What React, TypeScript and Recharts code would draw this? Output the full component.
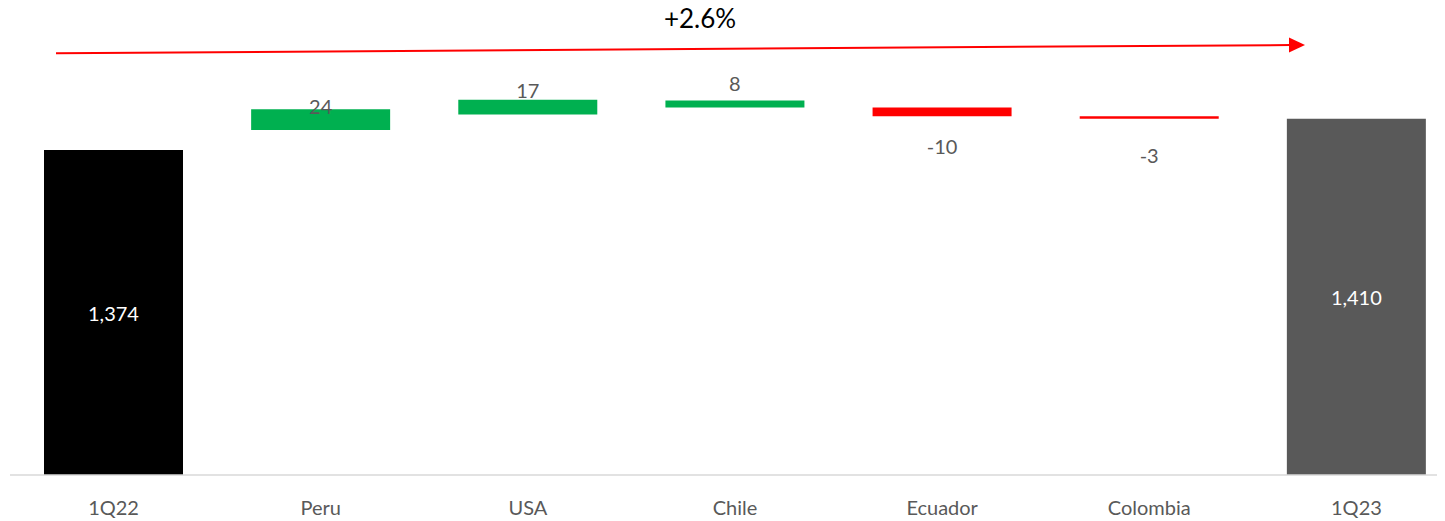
import React from "react";
import { Bar, BarChart, Cell, LabelList, XAxis, YAxis } from "recharts";

// bridge: 1Q22 -> country deltas -> 1Q23
const categories = ["1Q22", "Peru", "USA", "Chile", "Ecuador", "Colombia", "1Q23"];
const values = [1374, 24, 17, 8, -10, -3, 1410];
// level each floating bar starts from (totals start at the axis floor)
const starts = [null, 1397, 1415, 1423, 1423, 1413, null];
const kinds = ["start", "delta", "delta", "delta", "delta", "delta", "end"];
const growthLabel = "+2.6%";

const Y_MIN = 1000;
const Y_MAX = 1450;

const colorFor = (kind: string, v: number) => {
  if (kind === "start") return "#000000";
  if (kind === "end") return "#595959";
  return v >= 0 ? "#00b050" : "#ff0000";
};

const data = categories.map((name, i) => {
  const s = starts[i];
  const range = s === null ? [Y_MIN, values[i]] : [Math.min(s, s + values[i]), Math.max(s, s + values[i])];
  return { name, value: values[i], range, kind: kinds[i] };
});

const fmt = (v: number) => v.toLocaleString("en-US");

function BarLabel(props: any) {
  const { x, y, width, height, index } = props;
  const d = data[index];
  const cx = x + width / 2;
  if (d.kind !== "delta") {
    return (
      <text x={cx} y={y + height / 2} fill="#ffffff" fontSize={20} textAnchor="middle" dominantBaseline="central">
        {fmt(d.value)}
      </text>
    );
  }
  // excel puts the delta labels relative to where the bar starts
  const cy = d.value >= 0 ? y + height - 24 : y + 39;
  return (
    <text x={cx} y={cy} fill="#595959" fontSize={20} textAnchor="middle" dominantBaseline="central">
      {fmt(d.value)}
    </text>
  );
}

export default function App() {
  // wrapper pulled up over the body margin so the title isn't clipped
  return (
    <div
      style={{
        position: "relative",
        marginTop: -8,
        width: 1437,
        height: 521,
        overflow: "hidden",
        fontFamily: "Lato, sans-serif",
      }}
    >
      <BarChart width={1452} height={521} data={data} margin={{ top: 84, right: 0, left: 2, bottom: 0 }}>
        <XAxis
          dataKey="name"
          axisLine={{ stroke: "#d9d9d9", strokeWidth: 1.5 }}
          tickLine={false}
          tickSize={0}
          tickMargin={26}
          height={46}
          tick={{ fontSize: 20, fill: "#595959" }}
          interval={0}
        />
        <YAxis hide domain={[Y_MIN, Y_MAX]} allowDataOverflow />
        <Bar dataKey="range" barSize={139} isAnimationActive={false}>
          {data.map((d, i) => (
            <Cell key={i} fill={colorFor(d.kind, d.value)} />
          ))}
          <LabelList dataKey="value" content={BarLabel} />
        </Bar>
      </BarChart>
      <svg width={1437} height={90} style={{ position: "absolute", left: 0, top: 0, pointerEvents: "none" }}>
        <line x1={48} y1={53.3} x2={1283} y2={45} stroke="#ff0000" strokeWidth={2} />
        <polygon points="1281,37.5 1297,45 1281,52.5" fill="#ff0000" />
        <text x={692} y={28} fontSize={26} fill="#000000" textAnchor="middle">
          {growthLabel}
        </text>
      </svg>
    </div>
  );
}
